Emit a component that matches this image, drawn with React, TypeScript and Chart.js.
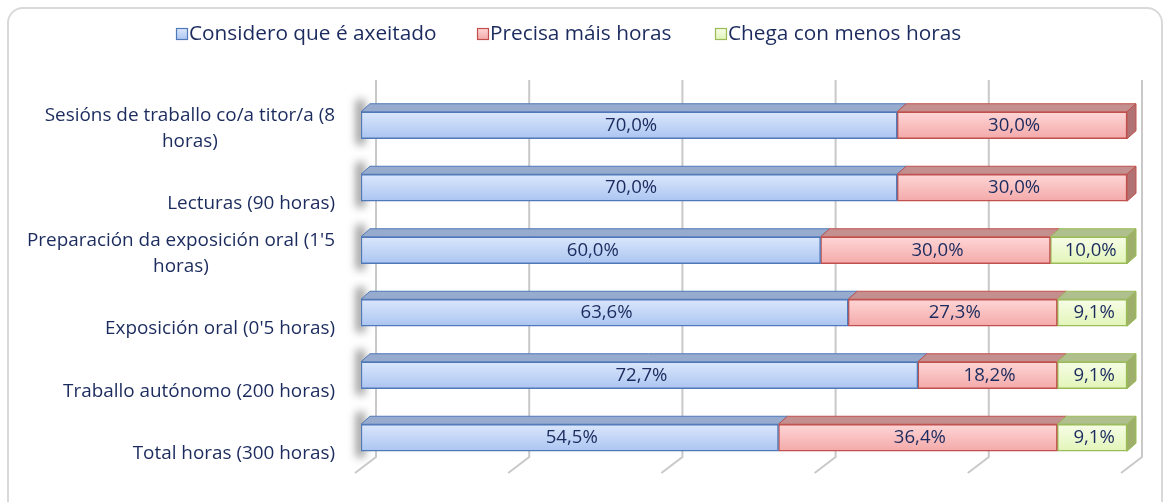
import React, { useEffect, useRef } from 'react';
import { Chart, registerables } from 'chart.js';
Chart.register(...registerables);

// ---------- data ----------
const categories: string[][] = [
  ['Sesións de traballo co/a titor/a (8', 'horas)'],
  ['Lecturas (90 horas)'],
  ["Preparación da exposición oral (1'5", 'horas)'],
  ["Exposición oral (0'5 horas)"],
  ['Traballo autónomo (200 horas)'],
  ['Total horas (300 horas)'],
];
const seriesNames = ['Considero que é axeitado', 'Precisa máis horas', 'Chega con menos horas'];
const axeitado = [70.0, 70.0, 60.0, 63.6, 72.7, 54.5];
const maisHoras = [30.0, 30.0, 30.0, 27.3, 18.2, 36.4];
const menosHoras = [0, 0, 10.0, 9.1, 9.1, 9.1];
const xTicks = [0, 20, 40, 60, 80, 100];

// ---------- styles ----------
const FONT = '"Open Sans", Lato, sans-serif';
const TEXT = '#1b2b5e';
const palettes = [
  { top: '#dbe7fc', bottom: '#abc5f1', border: '#4f79b8', lid: '#96abcd', side: '#7f97c0' },
  { top: '#fed6d6', bottom: '#f4a9a9', border: '#c0504d', lid: '#c48f8f', side: '#b07272' },
  { top: '#f7fde7', bottom: '#e2f5b8', border: '#9bbb59', lid: '#afbf8d', side: '#9daf6b' },
];
const legendX = [176, 477, 715];
const DX = 9;
const DY = 8;

const fmt = (v: number) => v.toFixed(1).replace('.', ',') + '%';

// pick a font size so that a sample string spans a given width
function fitSize(ctx: CanvasRenderingContext2D, sample: string, width: number) {
  ctx.save();
  ctx.font = '100px ' + FONT;
  const w = ctx.measureText(sample).width;
  ctx.restore();
  return (100 * width) / w;
}

const excel3d = {
  id: 'excel3d',
  beforeDatasetsDraw(chart: any) {
    const ctx = chart.ctx;
    const xs = chart.scales.x;
    const area = chart.chartArea;
    const meta0 = chart.getDatasetMeta(0);
    // left wall shadows
    meta0.data.forEach((el: any) => {
      const p = el.getProps(['x', 'y', 'base', 'height'], true);
      const top = p.y - p.height / 2;
      ctx.save();
      ctx.filter = 'blur(4px)';
      ctx.fillStyle = 'rgba(0,0,0,0.4)';
      ctx.fillRect(p.base - 5, top - DY - 4, 9, p.height + DY + 10);
      ctx.restore();
    });
    // back wall gridlines
    ctx.save();
    ctx.strokeStyle = '#c9c9c9';
    ctx.lineWidth = 2;
    xTicks.forEach((v) => {
      const xb = xs.getPixelForValue(v) + 15;
      ctx.beginPath();
      ctx.moveTo(xb, area.top - 14);
      ctx.lineTo(xb, area.bottom - 12);
      ctx.lineTo(xb - 21, area.bottom + 4);
      ctx.stroke();
    });
    ctx.restore();
  },
  afterDatasetsDraw(chart: any) {
    const ctx = chart.ctx;
    chart.data.datasets.forEach((ds: any, di: number) => {
      const meta = chart.getDatasetMeta(di);
      const pal = palettes[di];
      meta.data.forEach((el: any, i: number) => {
        const v = ds.data[i];
        if (!v) return;
        const p = el.getProps(['x', 'y', 'base', 'height'], true);
        const top = p.y - p.height / 2;
        const bottom = p.y + p.height / 2;
        ctx.save();
        ctx.beginPath();
        ctx.moveTo(p.base, top);
        ctx.lineTo(p.x, top);
        ctx.lineTo(p.x + DX, top - DY);
        ctx.lineTo(p.base + DX, top - DY);
        ctx.closePath();
        ctx.fillStyle = pal.lid;
        ctx.fill();
        ctx.strokeStyle = pal.border;
        ctx.lineWidth = 1;
        ctx.stroke();
        let last = true;
        for (let k = di + 1; k < chart.data.datasets.length; k++) {
          if (chart.data.datasets[k].data[i]) last = false;
        }
        if (last) {
          ctx.beginPath();
          ctx.moveTo(p.x, top);
          ctx.lineTo(p.x + DX, top - DY);
          ctx.lineTo(p.x + DX, bottom - DY);
          ctx.lineTo(p.x, bottom);
          ctx.closePath();
          ctx.fillStyle = pal.side;
          ctx.fill();
          ctx.stroke();
        }
        ctx.restore();
      });
    });
    // data labels
    const labelSize = fitSize(ctx, '30,0%', 52);
    chart.data.datasets.forEach((ds: any, di: number) => {
      const meta = chart.getDatasetMeta(di);
      meta.data.forEach((el: any, i: number) => {
        const v = ds.data[i];
        if (!v) return;
        const p = el.getProps(['x', 'y', 'base', 'height'], true);
        ctx.save();
        ctx.fillStyle = TEXT;
        ctx.font = labelSize.toFixed(1) + 'px ' + FONT;
        ctx.textAlign = 'center';
        ctx.textBaseline = 'middle';
        ctx.fillText(fmt(v), (p.x + p.base) / 2 + 2, p.y);
        ctx.restore();
      });
    });
  },
  afterDraw(chart: any) {
    const ctx = chart.ctx;
    const ys = chart.scales.y;
    // category labels
    const catSize = fitSize(ctx, 'Sesións de traballo co/a titor/a (8', 290);
    ctx.save();
    ctx.fillStyle = TEXT;
    ctx.font = catSize.toFixed(1) + 'px ' + FONT;
    ctx.textBaseline = 'middle';
    ctx.textAlign = 'center';
    (chart.data.labels as string[][]).forEach((lines, i) => {
      const cy = ys.getPixelForValue(i);
      const lastY = cy + 16;
      const w = Math.max(...lines.map((l) => ctx.measureText(l).width));
      const cx = 335 - w / 2;
      lines.forEach((l, j) => {
        ctx.fillText(l, cx, lastY - (lines.length - 1 - j) * 26);
      });
    });
    ctx.restore();
    // legend
    const legSize = fitSize(ctx, seriesNames[0], 247);
    ctx.save();
    ctx.font = legSize.toFixed(1) + 'px ' + FONT;
    ctx.textBaseline = 'middle';
    ctx.textAlign = 'left';
    seriesNames.forEach((name, k) => {
      const x = legendX[k];
      const y = 34;
      const pal = palettes[k];
      const g = ctx.createLinearGradient(0, y - 5.5, 0, y + 5.5);
      g.addColorStop(0, pal.top);
      g.addColorStop(1, pal.bottom);
      ctx.fillStyle = g;
      ctx.fillRect(x + 0.5, y - 5.5, 11, 11);
      ctx.strokeStyle = pal.border;
      ctx.lineWidth = 1.2;
      ctx.strokeRect(x + 0.5, y - 5.5, 11, 11);
      ctx.fillStyle = TEXT;
      ctx.fillText(name, x + 13, y);
    });
    ctx.restore();
  },
};

function frontGradient(ctx: any, di: number) {
  const chart = ctx.chart;
  const pal = palettes[di];
  const ys = chart.scales && chart.scales.y;
  if (!chart.chartArea || !ys) return pal.bottom;
  const cy = ys.getPixelForValue(ctx.dataIndex);
  if (!isFinite(cy)) return pal.bottom;
  const g = chart.ctx.createLinearGradient(0, cy - 13.5, 0, cy + 13.5);
  g.addColorStop(0, pal.top);
  g.addColorStop(1, pal.bottom);
  return g;
}

export default function App() {
  const ref = useRef<HTMLCanvasElement>(null);
  useEffect(() => {
    if (!ref.current) return;
    const series = [axeitado, maisHoras, menosHoras];
    const chart = new Chart(ref.current, {
      type: 'bar',
      data: {
        labels: categories as any,
        datasets: series.map((d, di) => ({
          label: seriesNames[di],
          data: d,
          backgroundColor: (c: any) => frontGradient(c, di),
          borderColor: palettes[di].border,
          borderWidth: (c: any) => (c.raw ? 1.5 : 0),
          borderSkipped: false,
          barThickness: 27,
        })),
      },
      options: {
        indexAxis: 'y',
        responsive: false,
        animation: false,
        layout: { padding: { left: 361, right: 44, top: 94, bottom: 33 } },
        plugins: { legend: { display: false }, tooltip: { enabled: false }, title: { display: false } },
        scales: {
          x: { stacked: true, min: 0, max: 100, display: false },
          y: { stacked: true, display: false, offset: true },
        },
      },
      plugins: [excel3d],
    } as any);
    return () => chart.destroy();
  }, []);
  return (
    <div style={{ position: 'fixed', left: 0, top: 0, width: 1171, height: 502, overflow: 'hidden', background: '#fff' }}>
      <div
        style={{
          position: 'absolute',
          left: 7,
          top: 7,
          width: 1156,
          height: 520,
          border: '2px solid #d9d9d9',
          borderRadius: 16,
          boxSizing: 'border-box',
        }}
      />
      <canvas ref={ref} width={1171} height={502} style={{ position: 'absolute', left: 0, top: 0 }} />
    </div>
  );
}
